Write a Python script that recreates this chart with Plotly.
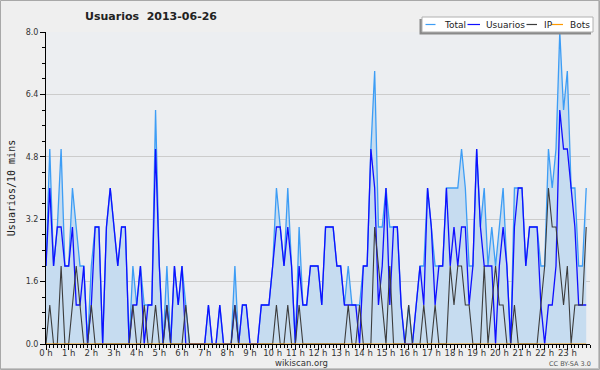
import plotly.graph_objects as go

# 10-minute slots, 2013-06-26
usuarios = [2,4,2,3,3,2,2,3,1,1,
            2,0,1,3,3,0,3,4,3,2,
            3,3,0,1,1,2,0,1,1,5,
            2,0,1,0,2,1,2,0,0,0,
            0,0,0,1,0,0,1,0,0,0,
            1,0,1,1,0,0,0,1,1,1,
            2,3,3,2,3,2,0,2,1,1,
            2,2,2,1,3,3,3,2,2,1,
            1,1,1,0,2,2,5,4,1,2,
            4,1,3,3,1,0,0,0,1,2,
            1,4,3,1,2,2,4,2,3,2,
            3,3,1,2,5,3,2,2,2,0,
            2,3,2,0,3,4,4,2,3,3,
            3,1,0,1,1,2,6,5,5,4,
            3,1,1,1]

ip = [0,1,0,0,2,0,0,1,2,1,
      0,0,1,0,0,0,0,0,0,0,
      0,0,0,1,0,0,1,0,0,1,
      0,0,1,0,0,0,0,1,0,0,
      0,0,0,0,0,0,0,0,0,0,
      1,0,0,0,0,0,0,0,0,0,
      0,1,0,0,1,0,0,1,0,0,
      0,0,0,0,0,0,0,0,0,0,
      1,0,0,1,0,0,0,3,2,1,
      0,2,0,0,0,0,1,0,0,0,
      1,0,0,1,0,0,0,2,1,2,
      2,1,1,0,0,0,2,0,1,2,
      1,1,0,0,1,0,0,0,0,0,
      0,1,2,4,3,3,2,1,2,0,
      1,1,1,3]

total = [2,5,2,3,5,2,2,4,3,2,
         2,0,2,3,3,0,3,4,3,2,
         3,3,0,2,1,2,1,1,1,6,
         2,0,2,0,2,1,2,1,0,0,
         0,0,0,1,0,0,1,0,0,0,
         2,0,1,1,0,0,0,1,1,1,
         2,4,3,2,4,2,0,3,1,1,
         2,2,2,1,3,3,3,2,2,1,
         2,1,1,1,2,2,5,7,3,3,
         4,3,3,3,1,0,1,0,1,2,
         2,4,3,2,2,2,4,4,4,4,
         5,4,2,2,5,3,4,2,3,2,
         3,4,2,0,4,4,4,2,3,3,
         3,2,2,5,4,5,8,6,7,4,
         4,2,2,4]

bots = [0,0,0,0,0,0,0,0,0,0, 0,0,0,0,0,0,0,0,0,0,
        0,0,0,0,0,0,0,0,0,0, 0,0,0,0,0,0,0,0,0,0,
        0,0,0,0,0,0,0,0,0,0, 0,0,0,0,0,0,0,0,0,0,
        0,0,0,0,0,0,0,0,0,0, 0,0,0,0,0,0,0,0,0,0,
        0,0,0,0,0,0,0,0,0,0, 0,0,0,0,0,0,0,0,0,0,
        0,0,0,0,0,0,0,0,0,0, 0,0,0,0,0,0,0,0,0,0,
        0,0,0,0,0,0,0,0,0,0, 0,0,0,0,0,0,0,0,0,0,
        0,0,0,0]

hour_vals = list(range(24))
hour_labels = ["0 h","1 h","2 h","3 h","4 h","5 h","6 h","7 h","8 h","9 h","10 h","11 h",
               "12 h","13 h","14 h","15 h","16 h","17 h","18 h","19 h","20 h","21 h","22 h","23 h"]
y_vals = [0, 1.6, 3.2, 4.8, 6.4, 8.0]
y_labels = ["0.0", "1.6", "3.2", "4.8", "6.4", "8.0"]

times = [i / 6 for i in range(len(total))]

C_TOTAL = "#3d9df5"
C_USR = "#0f0fff"
C_IP = "#3c3c3c"
C_BOTS = "#ff9a00"

fig = go.Figure()
fig.add_trace(go.Scatter(x=times, y=total, mode="lines", name="Total",
                         line=dict(color=C_TOTAL, width=1.3),
                         fill="tozeroy", fillcolor="#c6dcf0"))
fig.add_trace(go.Scatter(x=times, y=usuarios, mode="lines", name="Usuarios",
                         line=dict(color=C_USR, width=1.3)))
fig.add_trace(go.Scatter(x=times, y=ip, mode="lines", name="IP",
                         line=dict(color=C_IP, width=1.1)))
fig.add_trace(go.Scatter(x=times, y=bots, mode="lines", name="Bots",
                         line=dict(color=C_BOTS, width=1.1)))

L, R, T, B = 46, 10, 32, 26
W, H = 600, 370
PW, PH = W - L - R, H - T - B

def px(x):
    return (x - L) / PW

def py(y):
    return (H - B - y) / PH

shapes = []
annotations = []

# outer frame
shapes.append(dict(type="rect", xref="paper", yref="paper",
                   x0=px(0.5), x1=px(599.5), y0=py(369.5), y1=py(0.5),
                   line=dict(color="#a8a8a8", width=1), layer="below"))
shapes.append(dict(type="line", xref="paper", yref="paper",
                   x0=px(598.5), x1=px(598.5), y0=py(369), y1=py(1),
                   line=dict(color="#c4c4c4", width=1)))
shapes.append(dict(type="line", xref="paper", yref="paper",
                   x0=px(1), x1=px(599), y0=py(368.5), y1=py(368.5),
                   line=dict(color="#c4c4c4", width=1)))

# legend box with shadow
shapes.append(dict(type="rect", xref="paper", yref="paper",
                   x0=px(419.5), x1=px(591), y0=py(34.5), y1=py(19),
                   line=dict(width=0), fillcolor="#8a8a8a"))
shapes.append(dict(type="rect", xref="paper", yref="paper",
                   x0=px(422), x1=px(593), y0=py(32), y1=py(17),
                   line=dict(color="#b0b0b0", width=1), fillcolor="#ffffff"))

leg = [("Total", C_TOTAL, 425.5, 435.5, 442),
       ("Usuarios", C_USR, 467.5, 480, 484),
       ("IP", C_IP, 526.5, 537, 542),
       ("Bots", C_BOTS, 551.5, 563, 568)]
for name, col, a, b, tx in leg:
    shapes.append(dict(type="line", xref="paper", yref="paper",
                       x0=px(a), x1=px(b), y0=py(24.5), y1=py(24.5),
                       line=dict(color=col, width=1.2)))
    annotations.append(dict(text=name, xref="paper", yref="paper",
                            x=px(tx), y=py(25), xanchor="left", yanchor="middle",
                            showarrow=False,
                            font=dict(family="DejaVu Sans", size=9, color="#222")))

annotations.append(dict(text="wikiscan.org", xref="paper", yref="paper",
                        x=px(301), y=py(362.5), xanchor="center", yanchor="middle",
                        showarrow=False,
                        font=dict(family="DejaVu Sans", size=8.5, color="#333")))
annotations.append(dict(text="CC BY-SA 3.0", xref="paper", yref="paper",
                        x=px(570), y=py(363.5), xanchor="center", yanchor="middle",
                        showarrow=False,
                        font=dict(family="DejaVu Sans", size=6.5, color="#555")))

fig.update_layout(
    width=W, height=H,
    margin=dict(l=L, r=R, t=T, b=B, autoexpand=False),
    paper_bgcolor="#efefef",
    plot_bgcolor="#eceef1",
    showlegend=False,
    title=dict(text="<b>Usuarios  2013-06-26</b>", x=151 / W, xanchor="center",
               y=1 - 16 / H, yanchor="middle",
               font=dict(family="DejaVu Sans", size=11, color="#222")),
    shapes=shapes,
    annotations=annotations,
    xaxis=dict(range=[0, 24], tickvals=hour_vals, ticktext=hour_labels,
               ticks="outside", ticklen=5, tickcolor="#000", tickwidth=1,
               ticklabelstandoff=-4,
               showline=True, linecolor="#000", linewidth=1,
               showgrid=False, zeroline=False, automargin=False,
               minor=dict(dtick=1 / 6, tick0=0, ticks="outside", ticklen=3,
                          tickcolor="#000", showgrid=False),
               tickfont=dict(family="DejaVu Sans", size=8.5, color="#333")),
    yaxis=dict(range=[0, 8], tickvals=y_vals, ticktext=y_labels,
               ticks="outside", ticklen=5, tickcolor="#000", tickwidth=1,
               showline=True, linecolor="#000", linewidth=1,
               showgrid=True, gridcolor="#cccccc", gridwidth=1, zeroline=False,
               automargin=False,
               minor=dict(dtick=0.4, tick0=0, ticks="outside", ticklen=3,
                          tickcolor="#000", showgrid=False),
               tickfont=dict(family="DejaVu Sans", size=8, color="#333"),
               title=dict(text="Usuarios/10 mins", standoff=8,
                          font=dict(family="DejaVu Sans Mono", size=10, color="#222"))),
)

fig.write_html("out.html", config={"displayModeBar": False},
               post_script="document.body.style.margin='0px';document.body.style.overflow='hidden';")
